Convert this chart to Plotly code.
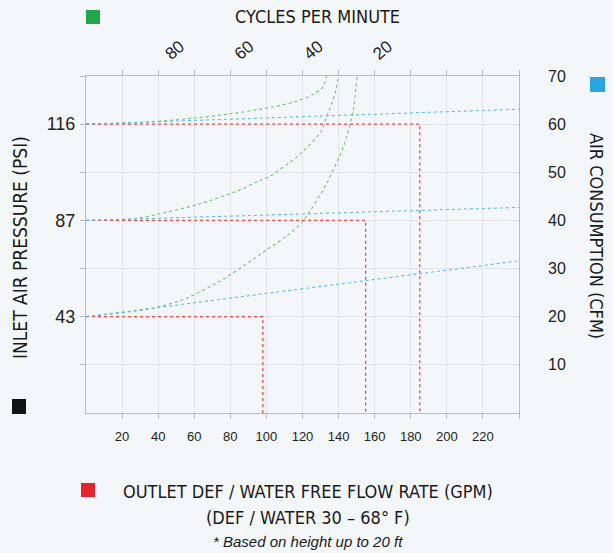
import plotly.graph_objects as go

# ── Data ───────────────────────────────────────────────────────────────────
# shared vertical scale (0-70); left labels are inlet pressures at 20/40/60
pressure_levels = [20, 40, 60]
pressure_labels = ["43", "87", "116"]

# outlet free flow (GPM) reached at each inlet pressure
flow_gpm = [98, 155, 185]

# air consumption (CFM) at the right edge (x = 240) for each pressure line
cfm_at_240 = [31.6, 42.7, 63.1]

# cycles-per-minute curves (flow x, scale y), one per pressure
cycle_x_43 = [0, 36.9, 55.4, 73.9, 92.3, 100.1, 110.8, 120.4, 133.3, 142.6, 148.1, 150.3]
cycle_y_43 = [20, 21.7, 23.8, 27.3, 31.8, 33.9, 36.6, 39.9, 47.6, 55.2, 62.8, 70]
cycle_x_87 = [0, 27.7, 60.9, 83.1, 96.4, 101.6, 118.2, 130.2, 133.3, 138, 140]
cycle_y_87 = [40, 40.4, 43.2, 46.0, 48.3, 49.1, 53.6, 58.4, 61.4, 66.3, 70]
cycle_x_116 = [0, 27.7, 55.4, 79.4, 99.7, 114.5, 125.6, 131.1, 133.3]
cycle_y_116 = [60, 60.3, 61.1, 62.1, 63.3, 64.5, 66.1, 67.6, 70]

flow_ticks = [20, 40, 60, 80, 100, 120, 140, 160, 180, 200, 220]
cfm_ticks = [10, 20, 30, 40, 50, 60, 70]
cycle_ticks = [80, 60, 40, 20]

RED = "#ef4a4a"
GREEN = "#74c174"
BLUE = "#5cbde8"
BG = "#f4f7f9"
NARROW = "Liberation Sans Narrow, DejaVu Sans Condensed, Arial Narrow, sans-serif"
SANS = "Liberation Sans, Arial, sans-serif"

fig = go.Figure()

# air consumption lines (right axis)
for lvl, end in zip(pressure_levels, cfm_at_240):
    fig.add_trace(go.Scatter(x=[0, 240], y=[lvl, end], mode="lines", yaxis="y2",
                             line=dict(color=BLUE, width=1.1, dash="dot"),
                             showlegend=False, hoverinfo="skip"))

# cycles per minute curves
for cx, cy in [(cycle_x_43, cycle_y_43), (cycle_x_87, cycle_y_87), (cycle_x_116, cycle_y_116)]:
    fig.add_trace(go.Scatter(x=cx, y=cy, mode="lines",
                             line=dict(color=GREEN, width=1.1, dash="dot",
                                       shape="spline", smoothing=0.6),
                             showlegend=False, hoverinfo="skip"))

# free flow boxes
for lvl, q in zip(pressure_levels, flow_gpm):
    fig.add_trace(go.Scatter(x=[0, q, q], y=[lvl, lvl, 0], mode="lines",
                             line=dict(color=RED, width=1.3, dash="dot"),
                             showlegend=False, hoverinfo="skip"))

# dummy trace so the top cycles axis is drawn
fig.add_trace(go.Scatter(x=cycle_ticks, y=[None] * len(cycle_ticks), xaxis="x2",
                         mode="markers", showlegend=False, hoverinfo="skip"))

W, H = 613, 553
L, R, T, B = 86, 94, 76, 140
pw, ph = W - L - R, H - T - B


def px(x, y):
    """pixel position -> paper coords"""
    return (x - L) / pw, (H - B - y) / ph


def square(x0, y0, x1, y1, color):
    a, b = px(x0, y1)
    c, d = px(x1, y0)
    fig.add_shape(type="rect", xref="paper", yref="paper", x0=a, y0=b, x1=c, y1=d,
                  fillcolor=color, line=dict(width=0))


square(86, 10, 100, 24, "#1fa84b")
square(590, 77, 605, 92, "#27a7e1")
square(12, 399, 26, 414, "#111111")
square(81, 483, 95, 497, "#e8232b")


def label(x, y, text, size, family=NARROW, angle=0, italic=False):
    ax, ay = px(x, y)
    fig.add_annotation(x=ax, y=ay, xref="paper", yref="paper", text=text,
                       showarrow=False, textangle=angle, xanchor="center", yanchor="middle",
                       font=dict(family=family, size=size, color="#1a1a1a",
                                 style="italic" if italic else "normal"))


label(317, 16, "CYCLES PER MINUTE", 18)
label(20, 248, "INLET AIR PRESSURE (PSI)", 19, angle=-90)
label(597, 236, "AIR CONSUMPTION (CFM)", 18, angle=90)
label(308, 491, "OUTLET DEF / WATER FREE FLOW RATE (GPM)", 18)
label(308, 517, "(DEF / WATER 30 – 68° F)", 18)
label(308, 541, "* Based on height up to 20 ft", 15, family=SANS, italic=True)

axis_line = "#b8bcc0"
grid = "#e2e6e9"

fig.update_layout(
    width=W, height=H,
    margin=dict(l=L, r=R, t=T, b=B, pad=0, autoexpand=False),
    paper_bgcolor=BG, plot_bgcolor="rgba(0,0,0,0)",
    xaxis=dict(range=[0, 240], tickvals=flow_ticks + [240], ticktext=[str(v) for v in flow_ticks] + [""],
               showgrid=True, gridcolor=grid, showline=True, linecolor=axis_line,
               mirror="ticks", ticks="outside", ticklen=5, tickcolor=axis_line,
               tickfont=dict(family=SANS, size=13, color="#222"), ticklabelstandoff=6,
               zeroline=False, automargin=False),
    xaxis2=dict(overlaying="x", side="top", range=[103, -22], tickvals=cycle_ticks,
                tickangle=-40, showgrid=False, showline=False, ticks="", zeroline=False,
                tickfont=dict(family=SANS, size=17, color="#222"), ticklabelstandoff=9,
                automargin=False),
    yaxis=dict(range=[0, 70], tickvals=cfm_ticks,
               ticktext=["", pressure_labels[0], "", pressure_labels[1], "", pressure_labels[2], ""],
               showgrid=True, gridcolor=grid, showline=True, linecolor=axis_line,
               mirror=True, ticks="outside", ticklen=5, tickcolor=axis_line,
               tickfont=dict(family=SANS, size=18, color="#222"), ticklabelstandoff=1,
               zeroline=False, automargin=False),
    yaxis2=dict(overlaying="y", side="right", range=[0, 70], tickvals=cfm_ticks,
                showgrid=False, showline=False, ticks="", zeroline=False,
                tickfont=dict(family=SANS, size=16, color="#222"), ticklabelstandoff=28,
                automargin=False),
)

# drop the default page margin so the figure sits at the window's corner
fig.write_html("out.html", config={"displayModeBar": False},
               post_script=f"document.body.style.margin='0';document.body.style.background='{BG}';")
